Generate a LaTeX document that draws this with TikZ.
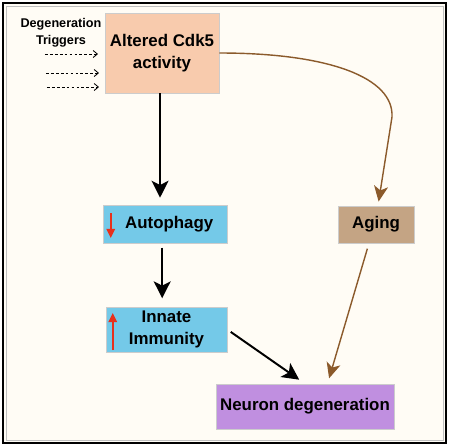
\documentclass[tikz,border=0pt]{standalone}
\usepackage{fontspec}
\setmainfont{Liberation Sans}
\usetikzlibrary{arrows.meta}
\definecolor{peach}{HTML}{F8CBAD}
\definecolor{skyblue}{HTML}{74C9E8}
\definecolor{agingtan}{HTML}{C4A484}
\definecolor{lilac}{HTML}{C08FE0}
\definecolor{cream}{HTML}{FFFCF5}
\definecolor{brownline}{HTML}{8B5A2B}
\definecolor{upred}{HTML}{E8301C}
\begin{document}
\begin{tikzpicture}[x=0.025cm, y=-0.025cm,
          every node/.style = {shape=rectangle, inner sep=0pt, align=center, font=\fontsize{12}{16}\selectfont\bfseries},
          box/.style = {draw=black!20, line width=0.4pt},
          blackarrow/.style = {-{Stealth[length=12pt, width=12pt, inset=3pt]}, line width=1.4pt},
          brownarrow/.style = {-{Stealth[length=11pt, width=10pt, inset=3pt]}, line width=1pt, draw=brownline},
          redarrow/.style = {-{Triangle[length=6.5pt, width=6pt]}, line width=1.3pt, draw=upred},
          trigger/.style = {-{Straight Barb[length=3pt, width=5pt]}, dash pattern=on 2pt off 1.5pt, line width=0.6pt}]
          \useasboundingbox (0,0) rectangle (450,448);
          \draw[line width=1.5pt, fill=cream] (3,3) rectangle (446,443);
          \draw[black!25, line width=0.5pt] (6,6) rectangle (443,440);
          % boxes
          \node[box, fill=peach, minimum width=2.85cm, minimum height=2cm] (cdk5) at (162,53) {Altered Cdk5\\activity};
          \node[box, fill=skyblue, minimum width=3.1cm, minimum height=0.95cm] (auto) at (165,224) {\hspace*{6pt}Autophagy};
          \node[box, fill=skyblue, minimum width=3.025cm, minimum height=1.125cm] (innate) at (166.5,329.5) {Innate\\Immunity};
          \node[box, fill=agingtan, minimum width=1.9cm, minimum height=0.925cm] (aging) at (376,224.5) {Aging};
          \node[box, fill=lilac, minimum width=4.45cm, minimum height=1.125cm] (neuron) at (305,406.5) {Neuron degeneration};
          % triggers
          \node[font=\fontsize{9}{12}\selectfont\bfseries] (trig) at (61,33) {Degeneration\\Triggers};
          \coordinate (t1) at (45,54);  \coordinate (t1e) at (98,54);
          \coordinate (t2) at (46,73);  \coordinate (t2e) at (99,73);
          \coordinate (t3) at (47,87);  \coordinate (t3e) at (99,87);
          \draw[trigger] (t1) -- (t1e);
          \draw[trigger] (t2) -- (t2e);
          \draw[trigger] (t3) -- (t3e);
          % up / down marks
          \draw[redarrow] ([shift={(8,-11)}]auto.west) -- ([shift={(8,14)}]auto.west);
          \draw[redarrow] ([shift={(7,20.5)}]innate.west) -- ([shift={(7,-16.5)}]innate.west);
          % connectors
          \draw[blackarrow, shorten >=5pt] ([xshift=-1.4pt]cdk5.south) -- ([xshift=-1.4pt]cdk5.south |- auto.north);
          \draw[blackarrow, shorten <=3pt, shorten >=6pt] ([xshift=-2pt]auto.south) -- ([xshift=-2pt]auto.south |- innate.north);
          \draw[blackarrow, shorten <=3pt, shorten >=5pt] (innate.east) -- (neuron.north);
          \draw[brownarrow, shorten <=4pt, shorten >=4pt] ([xshift=-5pt]aging.south) -- ([xshift=16pt]neuron.north);
          \draw[brownarrow, shorten >=3pt] (cdk5.east) .. controls (330,53) and (394,78) .. (392,117) -- ([xshift=1.4pt]aging.north);
\end{tikzpicture}
\end{document}
